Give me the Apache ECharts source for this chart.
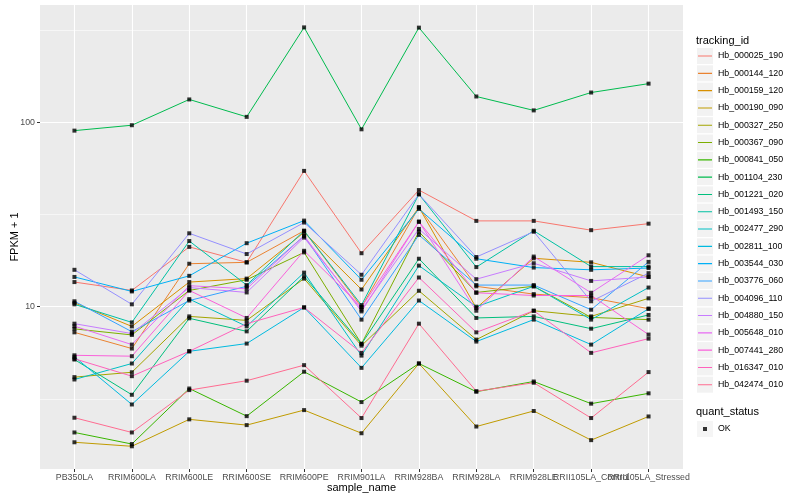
<!DOCTYPE html>
<html><head><meta charset="utf-8">
<script src="https://cdn.jsdelivr.net/npm/echarts@6/dist/echarts.min.js"></script>
<style>html,body{margin:0;padding:0;background:#fff}#c{width:800px;height:500px}</style>
</head><body><div id="c"></div>
<script>
// ---- data ----
const categories = ['PB350LA','RRIM600LA','RRIM600LE','RRIM600SE','RRIM600PE','RRIM901LA','RRIM928BA','RRIM928LA','RRIM928LE','RRII105LA_Control','RRII105LA_Stressed'];
const trackingIds = ['Hb_000025_190','Hb_000144_120','Hb_000159_120','Hb_000190_090','Hb_000327_250','Hb_000367_090','Hb_000841_050','Hb_001104_230','Hb_001221_020','Hb_001493_150','Hb_002477_290','Hb_002811_100','Hb_003544_030','Hb_003776_060','Hb_004096_110','Hb_004880_150','Hb_005648_010','Hb_007441_280','Hb_016347_010','Hb_042474_010'];
const quantStatus = ['OK'];

const Hb_000025_190 = [13.6, 12.25, 21.1, 17.4, 54.5, 19.5, 42.9, 29.2, 29.2, 26.0, 28.2];
const Hb_000144_120 = [7.26, 5.93, 17.1, 17.4, 25.8, 9.96, 34.6, 12.9, 11.7, 11.2, 9.75];
const Hb_000159_120 = [10.5, 7.82, 13.6, 14.2, 25.3, 12.4, 34.6, 9.84, 18.3, 17.4, 14.5];
const Hb_000190_090 = [1.84, 1.75, 2.45, 2.28, 2.75, 2.06, 4.92, 2.24, 2.72, 1.89, 2.54];
const Hb_000327_250 = [4.15, 4.41, 8.86, 8.43, 14.2, 6.15, 12.2, 6.63, 9.51, 8.86, 11.1];
const Hb_000367_090 = [7.58, 7.03, 12.25, 14.0, 19.7, 6.29, 25.5, 11.95, 12.9, 8.75, 8.51];
const Hb_000841_050 = [2.08, 1.80, 3.60, 2.55, 4.44, 3.04, 4.92, 3.46, 3.93, 2.98, 3.39];
const Hb_001104_230 = [90.1, 96.4, 133, 107, 327, 91.6, 326, 138, 116, 145, 162];
const Hb_001221_020 = [5.17, 3.33, 8.65, 7.35, 14.6, 6.29, 18.2, 8.69, 8.86, 7.60, 9.02];
const Hb_001493_150 = [10.3, 8.22, 22.7, 13.1, 25.8, 10.2, 40.7, 16.4, 25.8, 16.5, 16.5];
const Hb_002477_290 = [4.03, 4.92, 11.0, 7.82, 15.3, 5.43, 16.7, 10.0, 12.9, 8.51, 12.7];
const Hb_002811_100 = [5.35, 2.95, 5.73, 6.31, 9.91, 4.66, 10.8, 6.47, 8.51, 6.23, 9.75];
const Hb_003544_030 = [14.5, 12.1, 14.7, 22.1, 29.3, 14.0, 33.9, 18.2, 16.3, 15.85, 16.2];
const Hb_003776_060 = [10.7, 7.32, 10.8, 12.9, 24.2, 8.51, 24.5, 13.1, 13.1, 9.63, 17.5];
const Hb_004096_110 = [15.85, 10.3, 25.0, 19.3, 28.6, 14.9, 40.7, 18.6, 25.5, 10.7, 15.2];
const Hb_004880_150 = [8.09, 7.15, 12.7, 11.95, 23.7, 9.63, 26.4, 14.1, 17.2, 13.8, 14.5];
const Hb_005648_010 = [7.84, 6.23, 13.0, 12.5, 24.2, 9.43, 28.9, 9.51, 18.7, 11.9, 19.0];
const Hb_007441_280 = [5.45, 5.39, 12.25, 8.69, 20.1, 9.96, 28.9, 11.9, 11.5, 11.5, 7.06];
const Hb_016347_010 = [5.22, 4.20, 5.73, 8.09, 9.91, 5.62, 14.4, 7.26, 9.51, 5.62, 6.71];
const Hb_042474_010 = [2.50, 2.08, 3.53, 3.97, 4.82, 2.49, 8.09, 3.48, 3.87, 2.49, 4.42];

const seriesValues = [Hb_000025_190, Hb_000144_120, Hb_000159_120, Hb_000190_090, Hb_000327_250,
  Hb_000367_090, Hb_000841_050, Hb_001104_230, Hb_001221_020, Hb_001493_150, Hb_002477_290,
  Hb_002811_100, Hb_003544_030, Hb_003776_060, Hb_004096_110, Hb_004880_150, Hb_005648_010,
  Hb_007441_280, Hb_016347_010, Hb_042474_010];

const yTickValues = [10, 100];
const yMinorValues = [3.162, 31.62, 316.2];

// ---- style ----
const hueColors = ['#F8766D','#EA8331','#D89000','#C09B00','#A3A500','#7CAE00','#39B600','#00BB4E','#00BF7D','#00C1A3','#00BFC4','#00BAE0','#00B0F6','#35A2FF','#9590FF','#C77CFF','#E76BF3','#FA62DB','#FF62BC','#FF6C91'];
const FONT = '"Liberation Sans", Arial, Helvetica, sans-serif';
const X_MIN = 0.4, X_MAX = 11.6;
const xPos = categories.map((c, i) => i + 1);
// blank labels at the axis ends so that ECharts' min/max overlap check does not hide real labels
const xLabelValues = [X_MIN].concat(xPos, [X_MAX]);

const lineSeries = trackingIds.map((id, k) => ({
  name: id, type: 'line', symbol: 'none', z: 3, animation: false,
  data: seriesValues[k].map((v, i) => [i + 1, v]),
  lineStyle: { color: hueColors[k], width: 1 },
  itemStyle: { color: hueColors[k] },
  emphasis: { disabled: true }, silent: true
}));

const pointData = [];
seriesValues.forEach(vals => vals.forEach((v, i) => pointData.push([i + 1, v])));

const gridLines = [].concat(
  xPos.map(x => ({ xAxis: x, lineStyle: { color: '#FFFFFF', width: 1.1, type: 'solid' } })),
  yTickValues.map(y => ({ yAxis: y, lineStyle: { color: '#FFFFFF', width: 1.1, type: 'solid' } })),
  yMinorValues.map(y => ({ yAxis: y, lineStyle: { color: '#FFFFFF', width: 0.55, type: 'solid' } }))
);

const pointSeries = {
  name: 'OK', type: 'scatter', symbol: 'rect', symbolSize: 4, z: 4, animation: false,
  itemStyle: { color: '#000000' }, data: pointData, silent: true,
  emphasis: { disabled: true },
  markLine: { silent: true, symbol: 'none', z: 1, animation: false, label: { show: false },
    emphasis: { disabled: true }, data: gridLines }
};

const keyLegendBase = { orient: 'vertical', left: 697, itemWidth: 16, itemHeight: 16, itemGap: 1.3,
  padding: 0, selectedMode: false };

const option = {
  animation: false,
  backgroundColor: '#FFFFFF',
  textStyle: { fontFamily: FONT },
  title: [
    { text: 'tracking_id', left: 696, top: 34, padding: 0,
      textStyle: { fontSize: 11, fontWeight: 'normal', color: '#000', fontFamily: FONT, lineHeight: 13 } },
    { text: 'quant_status', left: 696, top: 405, padding: 0,
      textStyle: { fontSize: 11, fontWeight: 'normal', color: '#000', fontFamily: FONT, lineHeight: 13 } }
  ],
  legend: [
    Object.assign({}, keyLegendBase, { top: 48, icon: 'rect', z: 1,
      data: trackingIds.map(n => ({ name: n, itemStyle: { color: '#F2F2F2' } })),
      textStyle: { color: 'rgba(0,0,0,0)', fontSize: 8.8, fontFamily: FONT } }),
    Object.assign({}, keyLegendBase, { top: 48, z: 5,
      icon: 'path://M1,7.5H15V8.6H1Z M0,0h0.01v0.01H0Z M15.99,15.99h0.01v0.01h-0.01Z',
      data: trackingIds,
      textStyle: { color: '#000', fontSize: 8.8, fontFamily: FONT } }),
    Object.assign({}, keyLegendBase, { top: 421, icon: 'rect', z: 1,
      data: quantStatus.map(n => ({ name: n, itemStyle: { color: '#F2F2F2' } })),
      textStyle: { color: 'rgba(0,0,0,0)', fontSize: 8.8, fontFamily: FONT } }),
    Object.assign({}, keyLegendBase, { top: 421, z: 5,
      icon: 'path://M0,0h0.01v0.01H0Z M6,6h4v4H6Z M15.99,15.99h0.01v0.01h-0.01Z',
      data: quantStatus,
      textStyle: { color: '#000', fontSize: 8.8, fontFamily: FONT } })
  ],
  grid: { left: 40, right: 117, top: 5, bottom: 31, show: true, backgroundColor: '#EBEBEB',
    borderWidth: 0, containLabel: false, outerBoundsMode: 'none' },
  xAxis: {
    type: 'value', min: X_MIN, max: X_MAX,
    name: 'sample_name', nameLocation: 'middle', nameGap: 13, nameMoveOverlap: false,
    nameTextStyle: { fontSize: 11, color: '#000', fontFamily: FONT },
    axisLine: { show: false }, splitLine: { show: false },
    axisTick: { show: true, length: 3, lineStyle: { color: '#333333', width: 1 }, customValues: xPos },
    axisLabel: { color: '#4D4D4D', fontSize: 8.8, fontFamily: FONT, margin: 4, customValues: xLabelValues,
      hideOverlap: false, showMinLabel: false, showMaxLabel: false,
      formatter: v => { const i = Math.round(v * 10) / 10; return Number.isInteger(i) ? (categories[i - 1] || '') : ''; } }
  },
  yAxis: {
    type: 'log', logBase: 10, min: 1.318, max: 432.5,
    name: 'FPKM + 1', nameLocation: 'middle', nameGap: 20, nameRotate: 90, nameMoveOverlap: false,
    nameTextStyle: { fontSize: 11, color: '#000', fontFamily: FONT },
    axisLine: { show: false }, splitLine: { show: false }, minorSplitLine: { show: false },
    axisTick: { show: true, length: 3, lineStyle: { color: '#333333', width: 1 } },
    axisLabel: { color: '#4D4D4D', fontSize: 8.8, fontFamily: FONT, margin: 5,
      showMinLabel: false, showMaxLabel: false,
      formatter: v => (yTickValues.indexOf(Math.round(v)) >= 0 ? String(Math.round(v)) : '') }
  },
  series: lineSeries.concat([pointSeries])
};

const chart = echarts.init(document.getElementById('c'), null, { renderer: 'canvas' });
chart.setOption(option);
</script>
</body></html>
